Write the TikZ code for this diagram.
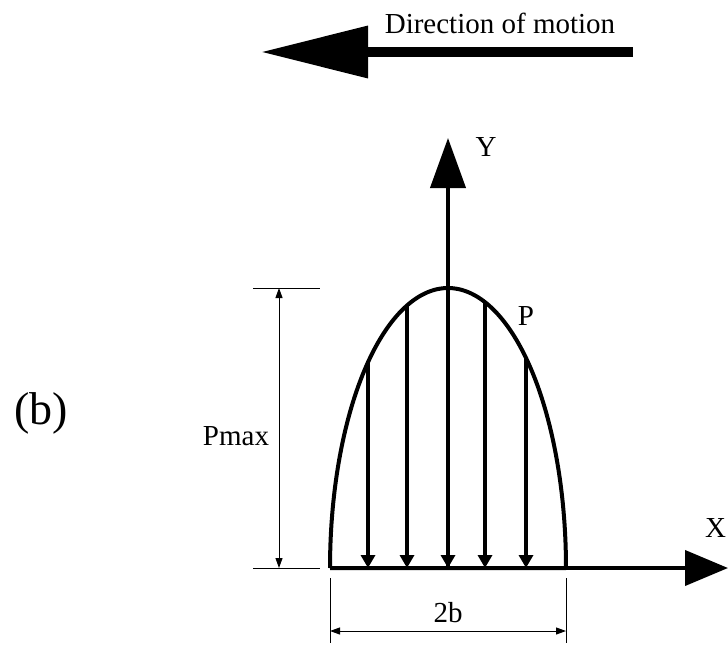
\documentclass[tikz,border=0pt]{standalone}
\usepackage{fontspec}
\setmainfont{Liberation Serif}
\usetikzlibrary{arrows.meta}
\begin{document}
\begin{tikzpicture}[x=1pt,y=-1pt,
  lbl/.style={inner sep=0pt,font=\fontsize{29}{33}\selectfont},
  thick line/.style={line width=4pt},
  load/.style={line width=4pt,-{Triangle[length=13pt,width=14pt]}},
  dimline/.style={line width=1pt,{Triangle[length=10pt,width=7pt]}-{Triangle[length=10pt,width=7pt]}},
  extline/.style={line width=1pt}]
\useasboundingbox (0,0) rectangle (728,645);
% direction of motion
\coordinate (ds) at (633,52);
\coordinate (de) at (261,52);
\draw[line width=10pt,-{Triangle[length=107pt,width=50pt]}] (ds) -- (de);
\node[lbl,anchor=base] (dtxt) at (500,33) {Direction of motion};
% key points
\coordinate (O) at (448,568);
\coordinate (L) at (330,568);
\coordinate (R) at (566,568);
\coordinate (T) at (448,288);
\coordinate (Ytip) at (448,138);
\coordinate (Xtip) at (728,568);
% Y axis
\draw[line width=4pt,-{Triangle[length=50pt,width=35pt]}] (O) -- (Ytip);
\node[lbl,anchor=base] (ylab) at (486,156) {Y};
% X axis
\draw[line width=4pt,-{Triangle[length=43pt,width=35pt]}] (R) -- (Xtip);
\node[lbl,anchor=base west] (xlab) at (705,537) {X};
% pressure curve and base
\draw[thick line,line join=round] (R) -- (L)
  plot[domain=180:0,samples=120] ({448+118*cos(\x)},{568-280*sin(\x)});
% load arrows
\foreach \dx/\nm in {-80/a1,-41/a2,0/a3,37/a4,78/a5}{
  \coordinate (\nm t) at ({448+\dx},{568-280*sqrt(1-(\dx/118)^2)});
  \coordinate (\nm b) at ({448+\dx},568);
  \draw[load] (\nm t) -- (\nm b);
}
\node[lbl,anchor=base] (plab) at (526,325) {P};
% Pmax dimension
\coordinate (pe1a) at (253,288); \coordinate (pe1b) at (320,288);
\coordinate (pe2a) at (253,568); \coordinate (pe2b) at (320,568);
\draw[extline] (pe1a) -- (pe1b);
\draw[extline] (pe2a) -- (pe2b);
\coordinate (pd1) at (279,288); \coordinate (pd2) at (279,568);
\draw[dimline] (pd1) -- (pd2);
\node[lbl,anchor=base] (pmax) at (236,445) {Pmax};
% 2b dimension
\coordinate (be1a) at (330,578); \coordinate (be1b) at (330,643);
\coordinate (be2a) at (566,578); \coordinate (be2b) at (566,643);
\draw[extline] (be1a) -- (be1b);
\draw[extline] (be2a) -- (be2b);
\coordinate (bd1) at (330,631); \coordinate (bd2) at (566,631);
\draw[dimline] (bd1) -- (bd2);
\node[lbl,anchor=base] (twob) at (448,622) {2b};
% (b)
\node[inner sep=0pt,anchor=base,font=\fontsize{46}{50}\selectfont] (blab) at (41,424) {(b)};
\end{tikzpicture}
\end{document}
